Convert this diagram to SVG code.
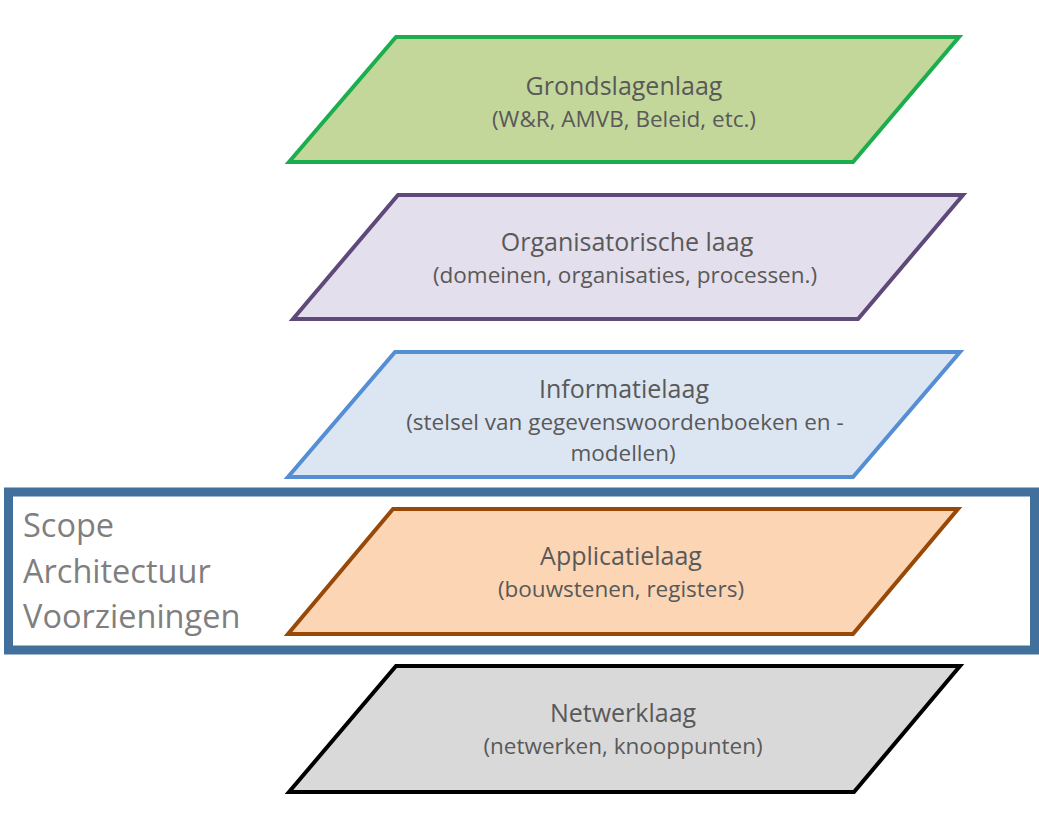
<svg xmlns="http://www.w3.org/2000/svg" width="1039" height="822" viewBox="0 0 1039 822">
<style>
.layer{stroke-width:4;stroke-linejoin:miter}
.t1{font-family:"Open Sans","Liberation Sans",sans-serif;font-size:25px;fill:#595959;text-anchor:middle}
.t2{font-family:"Open Sans","Liberation Sans",sans-serif;font-size:22.5px;fill:#595959;text-anchor:middle}
.scope{font-family:"Open Sans","Liberation Sans",sans-serif;font-size:32.5px;fill:#7f7f7f}
</style>
<rect width="1039" height="822" fill="#ffffff"/>
<g id="connectors"></g>
<g id="scope-box">
<rect x="8.5" y="492" width="1026" height="158" fill="none" stroke="#41709c" stroke-width="9"/>
<text class="scope" x="23" y="537">Scope</text>
<text class="scope" x="23" y="583">Architectuur</text>
<text class="scope" x="23" y="628">Voorzieningen</text>
</g>
<g id="grondslagenlaag">
<polygon class="layer" points="396,37 959,37 853,162 289,162" fill="#c4d79b" stroke="#1cae4e"/>
<text class="t1" x="624" y="95">Grondslagenlaag</text>
<text class="t2" x="624" y="127">(W&amp;R, AMVB, Beleid, etc.)</text>
</g>
<g id="organisatorische-laag">
<polygon class="layer" points="398,195 963,195 858,319 293,319" fill="#e4dfec" stroke="#5f497a"/>
<text class="t1" x="627" y="251">Organisatorische laag</text>
<text class="t2" x="625" y="283">(domeinen, organisaties, processen.)</text>
</g>
<g id="informatielaag">
<polygon class="layer" points="395,352 960,352 853,477 288,477" fill="#dce6f2" stroke="#558ed5"/>
<text class="t1" x="624" y="398">Informatielaag</text>
<text class="t2" x="625" y="430">(stelsel van gegevenswoordenboeken en -</text>
<text class="t2" x="623" y="461">modellen)</text>
</g>
<g id="applicatielaag">
<polygon class="layer" points="393,509 958,509 853,634 288,634" fill="#fcd5b5" stroke="#984807"/>
<text class="t1" x="621" y="565">Applicatielaag</text>
<text class="t2" x="621" y="597">(bouwstenen, registers)</text>
</g>
<g id="netwerklaag">
<polygon class="layer" points="396,666 960,666 854,792 289,792" fill="#d9d9d9" stroke="#000000"/>
<text class="t1" x="623" y="722">Netwerklaag</text>
<text class="t2" x="623" y="754">(netwerken, knooppunten)</text>
</g>
</svg>
